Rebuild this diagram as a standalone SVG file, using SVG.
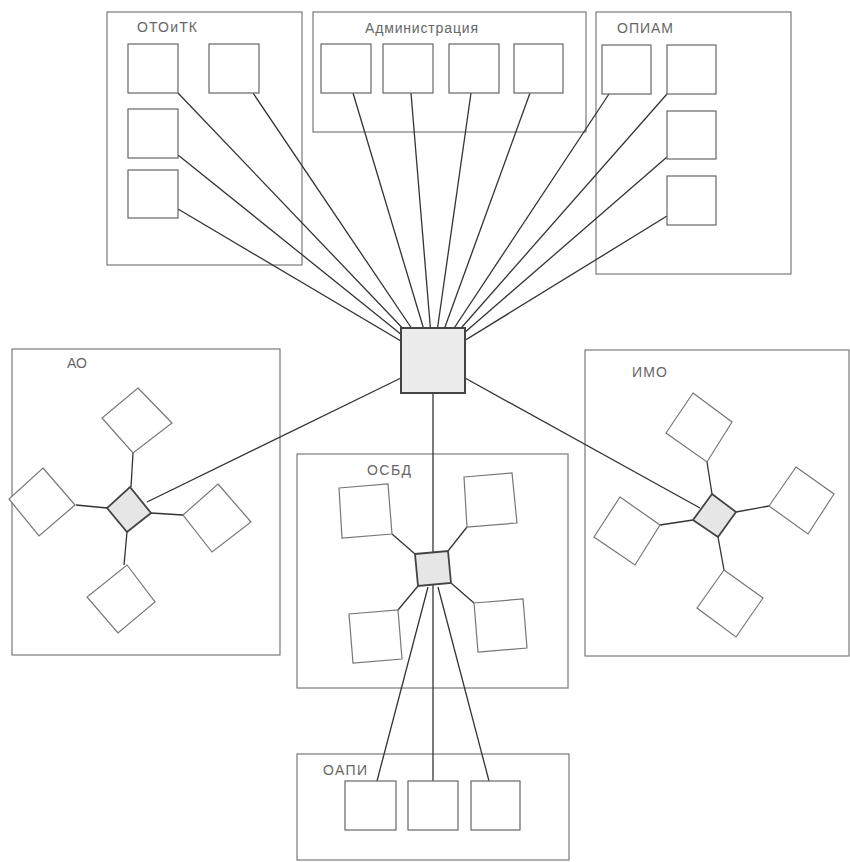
<svg xmlns="http://www.w3.org/2000/svg" width="850" height="862" viewBox="0 0 850 862">
<style>
.grp{fill:none;stroke:#7a7a7a;stroke-width:1.2}
.box{fill:#fff;stroke:#666;stroke-width:1.2}
.sat{fill:#fff;stroke:#777;stroke-width:1.2}
.hub{fill:#ececec;stroke:#444;stroke-width:2}
.sub{fill:#e6e6e6;stroke:#444;stroke-width:1.8}
.lbl{font-family:"Liberation Sans",Arial,sans-serif;font-size:14px;fill:#666}
.con{stroke:#333;stroke-width:1.3;fill:none}
</style>
<rect width="850" height="862" fill="#fff"/>
<g id="containers">
<g id="otoitk"><rect class="grp" x="107" y="12" width="195" height="253"/><text class="lbl" x="137" y="32" textLength="60">ОТОиТК</text></g>
<g id="admin"><rect class="grp" x="313" y="12" width="273" height="120"/><text class="lbl" x="365" y="33" textLength="113">Администрация</text></g>
<g id="opiam"><rect class="grp" x="596" y="12" width="195" height="262"/><text class="lbl" x="617" y="33" textLength="56">ОПИАМ</text></g>
<g id="ao"><rect class="grp" x="12" y="349" width="268" height="306"/><text class="lbl" x="67" y="368" textLength="20">АО</text></g>
<g id="imo"><rect class="grp" x="585" y="350" width="264" height="306"/><text class="lbl" x="632" y="377" textLength="35">ИМО</text></g>
<g id="osbd"><rect class="grp" x="297" y="454" width="271" height="234"/><text class="lbl" x="367" y="475" textLength="44">ОСБД</text></g>
<g id="oapi"><rect class="grp" x="297" y="754" width="272" height="106"/><text class="lbl" x="323" y="775" textLength="44">ОАПИ</text></g>
</g>
<g id="connectors">
<line class="con" x1="178" y1="93" x2="433" y2="360"/>
<line class="con" x1="253" y1="93" x2="433" y2="360"/>
<line class="con" x1="178" y1="155" x2="433" y2="360"/>
<line class="con" x1="178" y1="209" x2="433" y2="360"/>
<line class="con" x1="353" y1="93" x2="433" y2="360"/>
<line class="con" x1="411" y1="93" x2="433" y2="360"/>
<line class="con" x1="471" y1="93" x2="433" y2="360"/>
<line class="con" x1="530" y1="93" x2="433" y2="360"/>
<line class="con" x1="609" y1="94" x2="433" y2="360"/>
<line class="con" x1="667" y1="94" x2="433" y2="360"/>
<line class="con" x1="667" y1="157" x2="433" y2="360"/>
<line class="con" x1="667" y1="216" x2="433" y2="360"/>
<line class="con" x1="401" y1="378" x2="147" y2="502"/>
<line class="con" x1="465" y1="378" x2="700" y2="508"/>
<line class="con" x1="433" y1="393" x2="433" y2="781"/>
<line class="con" x1="133" y1="453" x2="131" y2="487"/>
<line class="con" x1="76" y1="505" x2="107" y2="508"/>
<line class="con" x1="151" y1="513" x2="183" y2="515"/>
<line class="con" x1="127" y1="532" x2="124" y2="565"/>
<line class="con" x1="707" y1="462" x2="712" y2="494"/>
<line class="con" x1="736" y1="512" x2="769" y2="506"/>
<line class="con" x1="660" y1="525" x2="693" y2="520"/>
<line class="con" x1="718" y1="537" x2="724" y2="570"/>
<line class="con" x1="392" y1="534" x2="415" y2="554"/>
<line class="con" x1="467" y1="527" x2="448" y2="551"/>
<line class="con" x1="418" y1="586" x2="398" y2="610"/>
<line class="con" x1="451" y1="583" x2="474" y2="603"/>
<line class="con" x1="428" y1="587" x2="377" y2="781"/>
<line class="con" x1="438" y1="587" x2="489" y2="781"/>
</g>
<g id="otoitk-nodes">
<rect id="otoitk-1" class="box" x="128" y="44" width="50" height="49"/>
<rect id="otoitk-2" class="box" x="209" y="44" width="50" height="49"/>
<rect id="otoitk-3" class="box" x="128" y="109" width="50" height="49"/>
<rect id="otoitk-4" class="box" x="128" y="170" width="50" height="48"/>
</g>
<g id="admin-nodes">
<rect id="admin-1" class="box" x="321" y="44" width="50" height="49"/>
<rect id="admin-2" class="box" x="383" y="44" width="50" height="49"/>
<rect id="admin-3" class="box" x="449" y="44" width="50" height="49"/>
<rect id="admin-4" class="box" x="514" y="44" width="49" height="49"/>
</g>
<g id="opiam-nodes">
<rect id="opiam-1" class="box" x="602" y="45" width="49" height="49"/>
<rect id="opiam-2" class="box" x="667" y="45" width="49" height="49"/>
<rect id="opiam-3" class="box" x="667" y="111" width="49" height="48"/>
<rect id="opiam-4" class="box" x="667" y="176" width="49" height="49"/>
</g>
<g id="hub"><rect class="hub" x="401" y="328" width="64" height="65"/></g>
<g id="ao-nodes">
<polygon id="ao-hub" class="sub" points="130,487 151,513 127,532 107,508"/>
<polygon id="ao-1" class="sat" points="138,388 172,423 133,453 102,418"/>
<polygon id="ao-2" class="sat" points="43,468 75,505 39,536 9,499"/>
<polygon id="ao-3" class="sat" points="218,484 251,522 212,552 183,515"/>
<polygon id="ao-4" class="sat" points="127,565 155,602 118,633 87,597"/>
</g>
<g id="imo-nodes">
<polygon id="imo-hub" class="sub" points="712,494 736,512 718,537 693,520"/>
<polygon id="imo-1" class="sat" points="693,393 732,422 707,462 666,433"/>
<polygon id="imo-2" class="sat" points="796,467 834,494 808,534 769,506"/>
<polygon id="imo-3" class="sat" points="620,497 660,525 635,565 594,537"/>
<polygon id="imo-4" class="sat" points="724,570 763,598 736,637 697,608"/>
</g>
<g id="osbd-nodes">
<polygon id="osbd-hub" class="sub" points="415,554 448,551 451,583 418,586"/>
<polygon id="osbd-1" class="sat" points="339,488 388,484 392,534 342,538"/>
<polygon id="osbd-2" class="sat" points="464,477 512,473 517,523 467,527"/>
<polygon id="osbd-3" class="sat" points="349,614 398,610 402,659 353,663"/>
<polygon id="osbd-4" class="sat" points="474,603 523,599 527,648 478,652"/>
</g>
<g id="oapi-nodes">
<rect id="oapi-1" class="box" x="345" y="781" width="51" height="49"/>
<rect id="oapi-2" class="box" x="408" y="781" width="50" height="49"/>
<rect id="oapi-3" class="box" x="471" y="781" width="49" height="49"/>
</g>
</svg>
